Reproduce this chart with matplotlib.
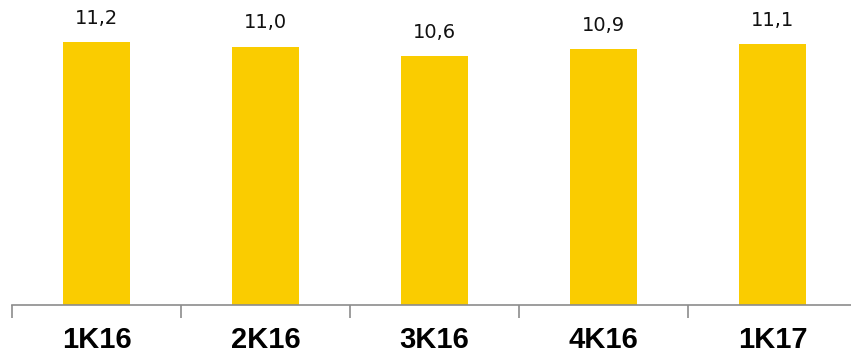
import matplotlib.pyplot as plt
import numpy as np

quarters = ['1K16', '2K16', '3K16', '4K16', '1K17']
values = [11.2, 11.0, 10.6, 10.9, 11.1]
labels = ['11,2', '11,0', '10,6', '10,9', '11,1']

fig = plt.figure(figsize=(8.51, 3.56), dpi=100)
ax = fig.add_axes([12 / 851, 51 / 356, 845 / 851, 305 / 356])

x = np.arange(len(quarters))
ax.bar(x, values, width=0.4, color='#FACC00')
for xi, v, lab in zip(x, values, labels):
    ax.text(xi, v + 0.6, lab, ha='center', va='bottom', fontsize=14,
            family='DejaVu Sans', color='#111111')

ax.set_xlim(-0.5, len(quarters) - 0.5)
ax.set_ylim(0, 12.98)
ax.set_yticks([])
for s in ['top', 'right', 'left']:
    ax.spines[s].set_visible(False)
ax.spines['bottom'].set_color('#8c8c8c')
ax.spines['bottom'].set_linewidth(1.2)

# category boundaries get the tick marks, names sit centred below
ax.set_xticks(np.arange(len(quarters) + 1) - 0.5)
ax.set_xticklabels([])
ax.tick_params(axis='x', length=9, width=1.2, color='#8c8c8c')
ax.set_xticks(x, minor=True)
ax.set_xticklabels(quarters, minor=True, fontsize=21, fontweight='bold',
                   family='Liberation Sans')
ax.tick_params(axis='x', which='minor', length=0, pad=15)

fig.savefig('out.png', dpi=100)
